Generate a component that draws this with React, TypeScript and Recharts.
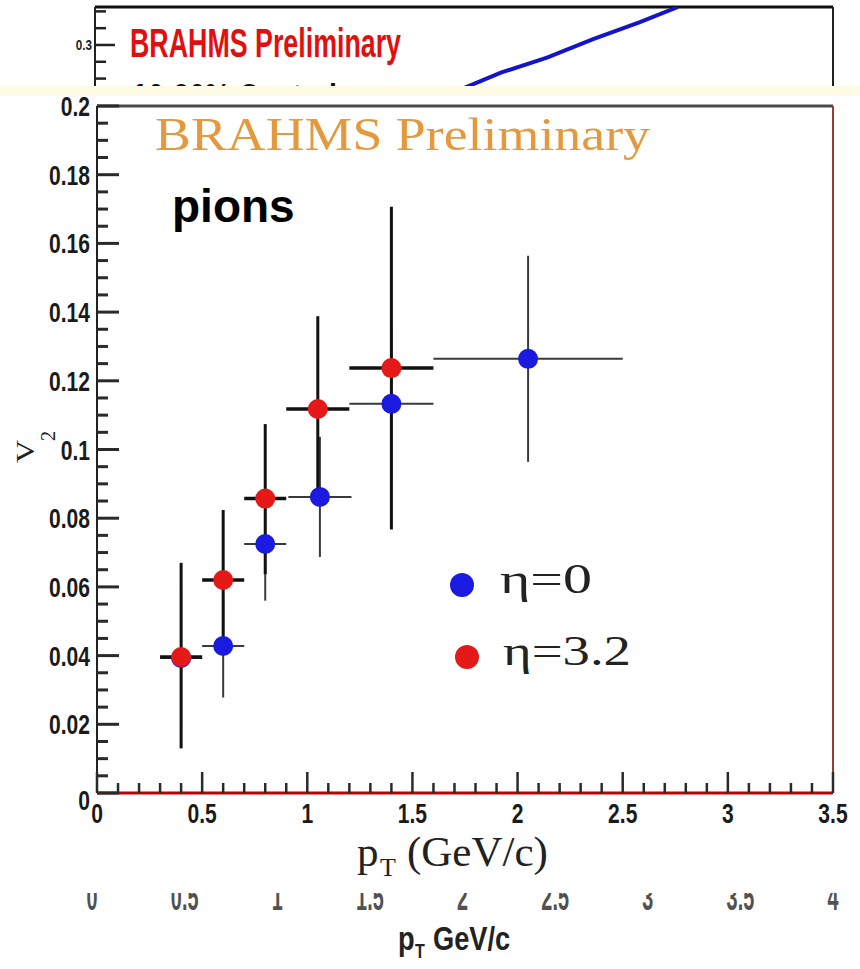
import React from 'react';
import {
  ScatterChart,
  Scatter,
  XAxis,
  YAxis,
  ErrorBar,
  ReferenceLine,
  Legend,
  LineChart,
  Line,
} from 'recharts';

// eta = 0 (blue)
const etaZeroPt = [0.4, 0.6, 0.8, 1.06, 1.4, 2.05];
const etaZeroV2 = [0.0393, 0.0428, 0.0725, 0.0862, 0.1133, 0.1264];
const etaZeroPtErr = [0.1, 0.1, 0.1, 0.15, 0.2, 0.45];
const etaZeroV2Err = [0.02, 0.015, 0.0165, 0.0175, 0.022, 0.03];

// eta = 3.2 (red)
const etaFwdPt = [0.4, 0.6, 0.8, 1.05, 1.4];
const etaFwdV2 = [0.0396, 0.062, 0.0857, 0.1118, 0.1237];
const etaFwdPtErr = [0.1, 0.1, 0.1, 0.15, 0.2];
const etaFwdV2ErrLow = [0.0266, 0.02, 0.022, 0.027, 0.047];
const etaFwdV2ErrHigh = [0.0274, 0.0204, 0.0217, 0.027, 0.047];

const seriesNames = ['η=0', 'η=3.2'];
const seriesColors = ['#1a1ae0', '#e61919'];

const xMajorTicks = [0, 0.5, 1, 1.5, 2, 2.5, 3, 3.5];
const yMajorTicks = [0, 0.02, 0.04, 0.06, 0.08, 0.1, 0.12, 0.14, 0.16, 0.18, 0.2];

// strip of the other (cut off) plot above and below
const stripPt = [2.0, 2.2, 2.45, 2.7, 2.95, 3.16];
const stripV2 = [0.2744, 0.2835, 0.2925, 0.3035, 0.3135, 0.3226];
const stripYTicks = [0.28, 0.29, 0.3, 0.31, 0.32];
const stripXTicks = [0, 0.5, 1, 1.5, 2, 2.5, 3, 3.5, 4];

const SANS = "'Liberation Sans', Arial, sans-serif";
const SERIF = "'Liberation Serif', 'Times New Roman', serif";

const blueData = etaZeroPt.map((pt, i) => ({ pt, v2: etaZeroV2[i], ex: etaZeroPtErr[i], ey: etaZeroV2Err[i] }));
const redData = etaFwdPt.map((pt, i) => ({
  pt,
  v2: etaFwdV2[i],
  ex: etaFwdPtErr[i],
  ey: [etaFwdV2ErrLow[i], etaFwdV2ErrHigh[i]],
}));
const stripData = stripPt.map((pt, i) => ({ pt, v2: stripV2[i] }));

// minor ticks between the major ones
const subdivide = (major: number[], n: number) => {
  const out: number[] = [];
  for (let i = 0; i < major.length - 1; i++) {
    const step = (major[i + 1] - major[i]) / n;
    for (let k = 0; k < n; k++) out.push(+(major[i] + k * step).toFixed(4));
  }
  out.push(major[major.length - 1]);
  return out;
};
const xAllTicks = subdivide(xMajorTicks, 5);
const yAllTicks = subdivide(yMajorTicks, 4);

const isMajor = (v: number, list: number[]) => list.some((m) => Math.abs(m - v) < 1e-6);
const fmt = (v: number) => String(+v.toFixed(3));

// condensed bold sans, like the ROOT labels
const Narrow = ({ x, y, size, anchor = 'start', fill = '#1a1a1a', sx = 0.78, opacity = 1, children }: any) => (
  <g transform={`translate(${x},${y}) scale(${sx},1)`}>
    <text x={0} y={0} textAnchor={anchor} fontFamily={SANS} fontWeight="bold" fontSize={size} fill={fill} opacity={opacity}>
      {children}
    </text>
  </g>
);

const Y_MARGIN = 7;
const X_MARGIN = 10;

const YTick = (props: any) => {
  const { x, y, payload } = props;
  const v = payload.value;
  const major = isMajor(v, yMajorTicks);
  const ax = x + Y_MARGIN;
  return (
    <g>
      <line x1={ax} x2={ax + (major ? 22 : 11)} y1={y} y2={y} stroke="#2a2a2a" strokeWidth={3} />
      {major && (
        <Narrow x={x} y={y + (v === 0 ? 17 : 10)} size={27} anchor="end">
          {fmt(v)}
        </Narrow>
      )}
    </g>
  );
};

const XTick = (props: any) => {
  const { x, y, payload } = props;
  const v = payload.value;
  const major = isMajor(v, xMajorTicks);
  const ay = y - X_MARGIN;
  return (
    <g>
      <line x1={x} x2={x} y1={ay} y2={ay - (major ? 21 : 10)} stroke="#2a2a2a" strokeWidth={2.5} />
      {major && (
        <Narrow x={x} y={y + 20} size={27} anchor="middle">
          {fmt(v)}
        </Narrow>
      )}
    </g>
  );
};

const StripYTick = (props: any) => {
  const { x, y, payload } = props;
  const major = Math.abs(payload.value - 0.3) < 1e-6;
  const ax = x + 6;
  return (
    <g>
      <line x1={ax} x2={ax + (major ? 20 : 11)} y1={y} y2={y} stroke="#222" strokeWidth={2.5} />
      {major && (
        <Narrow x={x + 3} y={y + 5} size={15} anchor="end" fill="#222">
          {fmt(payload.value)}
        </Narrow>
      )}
    </g>
  );
};

const StripXTick = (props: any) => {
  const { x, y, payload } = props;
  return (
    <Narrow x={x} y={y + 19} size={36} anchor="middle" fill="#333" sx={0.55} opacity={0.85}>
      {fmt(payload.value)}
    </Narrow>
  );
};

const LegendContent = () => (
  <svg width={260} height={150}>
    <circle cx={14} cy={27} r={12} fill={seriesColors[0]} />
    <text x={52} y={35} fontFamily={SERIF} fontSize={42} fill="#222" textLength={92} lengthAdjust="spacingAndGlyphs">
      {seriesNames[0]}
    </text>
    <circle cx={19} cy={99} r={12} fill={seriesColors[1]} />
    <text x={55} y={107} fontFamily={SERIF} fontSize={42} fill="#222" textLength={128} lengthAdjust="spacingAndGlyphs">
      {seriesNames[1]}
    </text>
  </svg>
);

const dot = (color: string) => (p: any) => <circle cx={p.cx} cy={p.cy} r={10} fill={color} />;

export default function App() {
  return (
    <div style={{ position: 'relative', width: 860, height: 969, background: '#fff', overflow: 'hidden' }}>
      <style>{'body{margin:0}'}</style>
      <div style={{ position: 'absolute', left: 0, top: 86, width: 860, height: 10, background: '#fdfae6' }} />

      <div style={{ position: 'absolute', left: 0, top: 0 }}>
        <ScatterChart width={860} height={969} margin={{ top: 106, right: 27, bottom: 136, left: 37 }}>
          <XAxis
            type="number"
            dataKey="pt"
            domain={[0, 3.5]}
            ticks={xAllTicks}
            interval={0}
            height={40}
            tickSize={0}
            tickMargin={X_MARGIN}
            tickLine={false}
            tick={<XTick />}
            axisLine={{ stroke: '#c00000', strokeWidth: 3 }}
          />
          <YAxis
            type="number"
            dataKey="v2"
            domain={[0, 0.2]}
            ticks={yAllTicks}
            interval={0}
            width={60}
            tickSize={0}
            tickMargin={Y_MARGIN}
            tickLine={false}
            tick={<YTick />}
            axisLine={{ stroke: '#222', strokeWidth: 2 }}
          />
          <ReferenceLine y={0.2} stroke="#4a4a4a" strokeWidth={3} />
          <ReferenceLine x={3.5} stroke="#9a3a30" strokeWidth={2} />
          <Scatter name={seriesNames[0]} data={blueData} fill={seriesColors[0]} shape={dot(seriesColors[0])} isAnimationActive={false}>
            <ErrorBar dataKey="ex" direction="x" width={0} stroke="#3a3a3a" strokeWidth={2} />
            <ErrorBar dataKey="ey" direction="y" width={0} stroke="#3a3a3a" strokeWidth={2} />
          </Scatter>
          <Scatter name={seriesNames[1]} data={redData} fill={seriesColors[1]} shape={dot(seriesColors[1])} isAnimationActive={false}>
            <ErrorBar dataKey="ex" direction="x" width={0} stroke="#111" strokeWidth={3.5} />
            <ErrorBar dataKey="ey" direction="y" width={0} stroke="#111" strokeWidth={3} />
          </Scatter>
          <Legend
            layout="horizontal"
            verticalAlign="middle"
            align="center"
            wrapperStyle={{ left: 448, top: 558, width: 260, height: 150 }}
            content={<LegendContent />}
          />
        </ScatterChart>
      </div>

      {/* texts of the main plot */}
      <svg width={860} height={969} style={{ position: 'absolute', left: 0, top: 0, pointerEvents: 'none' }}>
        <text x={155} y={150} fontFamily={SERIF} fontSize={46} fill="#e5993d" textLength={495} lengthAdjust="spacingAndGlyphs">
          BRAHMS Preliminary
        </text>
        <text x={172} y={222} fontFamily={SANS} fontWeight="bold" fontSize={46} fill="#000">pions</text>
        <text transform="translate(34,463) rotate(-90)" fontFamily={SERIF} fontSize={25} fill="#222" textLength={23} lengthAdjust="spacingAndGlyphs">V</text>
        <text transform="translate(55,441) rotate(-90)" fontFamily={SERIF} fontSize={20} fill="#222">2</text>
        <text x={357} y={866} fontFamily={SERIF} fontSize={43} fill="#222">p</text>
        <text x={380} y={876} fontFamily={SERIF} fontSize={26} fill="#222">T</text>
        <text x={407} y={866} fontFamily={SERIF} fontSize={43} fill="#222">(GeV/c)</text>
        <Narrow x={398} y={950} size={34} fill="#222" sx={0.8}>p</Narrow>
        <Narrow x={415} y={958} size={20} fill="#222" sx={0.8}>T</Narrow>
        <Narrow x={433} y={950} size={34} fill="#222" sx={0.8}>GeV/c</Narrow>
      </svg>

      {/* top strip: piece of another plot */}
      <div style={{ position: 'absolute', left: 0, top: 0, width: 860, height: 86, overflow: 'hidden', background: '#fff' }}>
        <LineChart width={860} height={88} data={stripData} margin={{ top: 7, right: 27, bottom: 0, left: 35 }}>
          <XAxis type="number" dataKey="pt" domain={[0, 4]} hide />
          <YAxis
            type="number"
            domain={[0.2744, 0.3226]}
            ticks={stripYTicks}
            interval={0}
            width={60}
            tickSize={0}
            tickMargin={6}
            tickLine={false}
            tick={<StripYTick />}
            axisLine={{ stroke: '#222', strokeWidth: 2 }}
            allowDataOverflow
          />
          <ReferenceLine y={0.3226} stroke="#111" strokeWidth={3} />
          <ReferenceLine x={4} stroke="#222" strokeWidth={2} />
          <Line type="linear" dataKey="v2" stroke="#1414c8" strokeWidth={4} dot={false} isAnimationActive={false} />
        </LineChart>
        <svg width={860} height={86} style={{ position: 'absolute', left: 0, top: 0 }}>
          <text x={130} y={57} fontFamily={SANS} fontWeight="bold" fontSize={40} fill="#e01010" textLength={271} lengthAdjust="spacingAndGlyphs">
            BRAHMS Preliminary
          </text>
          <text x={132} y={110} fontFamily={SANS} fontWeight="bold" fontSize={36} fill="#111" textLength={205} lengthAdjust="spacingAndGlyphs">
            10-20% Central
          </text>
        </svg>
      </div>

      {/* bottom strip: cut tick labels of the other plot */}
      <div style={{ position: 'absolute', left: 0, top: 893, width: 860, height: 22, overflow: 'hidden' }}>
        <div style={{ position: 'absolute', left: 0, top: -22 }}>
          <LineChart width={860} height={60} data={stripData} margin={{ top: 0, right: 27, bottom: 0, left: 92 }}>
            <XAxis
              type="number"
              dataKey="pt"
              domain={[0, 4]}
              ticks={stripXTicks}
              interval={0}
              height={40}
              tickSize={0}
              tickMargin={0}
              tickLine={false}
              axisLine={false}
              tick={<StripXTick />}
            />
            <YAxis hide domain={[0.2744, 0.3226]} />
            <Line dataKey="v2" stroke="none" dot={false} isAnimationActive={false} />
          </LineChart>
        </div>
      </div>
    </div>
  );
}
